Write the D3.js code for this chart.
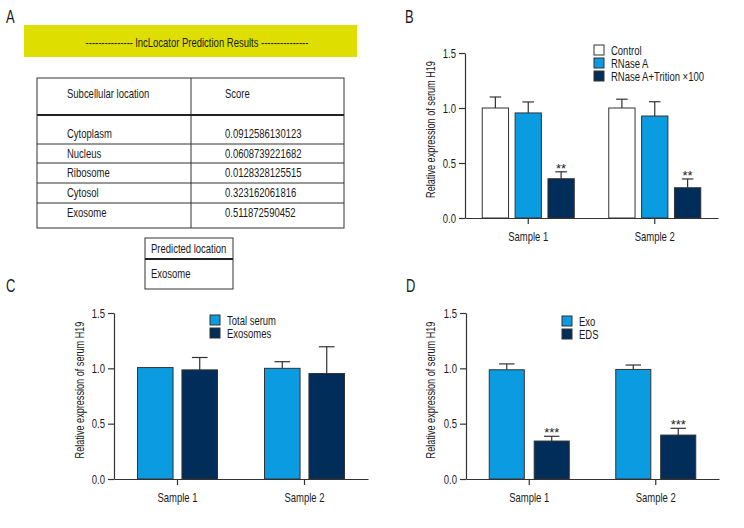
<!DOCTYPE html>
<html><head><meta charset="utf-8">
<script src="https://cdn.jsdelivr.net/npm/d3@7"></script>
<style>
body{margin:0;background:#fff}
svg text{font-family:"Liberation Sans",Arial,sans-serif;fill:#1a1a1a}
</style></head><body>
<svg id="c" width="744" height="528"></svg>
<script>
// ---- Data ----
const tableHeader = ["Subcellular location", "Score"];
const locations = ["Cytoplasm", "Nucleus", "Ribosome", "Cytosol", "Exosome"];
const scores = ["0.0912586130123", "0.0608739221682", "0.0128328125515", "0.323162061816", "0.511872590452"];
const predictedLabel = "Predicted location";
const predictedValue = "Exosome";
const bannerText = "--------------- lncLocator Prediction Results ---------------";

const samples = ["Sample 1", "Sample 2"];
const yTicks = [0, 0.5, 1.0, 1.5];
const yTitle = "Relative expression of serum H19";

const seriesB = ["Control", "RNase A", "RNase A+Trition \u00d7100"];
const valuesB = [[1.00, 1.00], [0.955, 0.927], [0.357, 0.275]];
const errorsB = [[0.10, 0.08], [0.10, 0.13], [0.063, 0.08]];
const starsB = [["", ""], ["", ""], ["**", "**"]];

const seriesC = ["Total serum", "Exosomes"];
const valuesC = [[1.007, 1.0], [0.986, 0.953]];
const errorsC = [[0.0, 0.06], [0.112, 0.242]];

const seriesD = ["Exo", "EDS"];
const valuesD = [[0.987, 0.99], [0.343, 0.397]];
const errorsD = [[0.053, 0.04], [0.043, 0.061]];
const starsD = [["", ""], ["***", "***"]];

const colorsB = ["#ffffff", "#0a9be0", "#002d5a"];
const colors2 = ["#0a9be0", "#002d5a"];

const SX = 0.73;   // condensed look
const FS = 13;
const svg = d3.select("#c");

function T(parent, x, y, str, opts = {}) {
  const size = opts.size || FS;
  const rot = opts.rotate ? ` rotate(${opts.rotate})` : "";
  return parent.append("text")
    .attr("transform", `translate(${x},${y})${rot} scale(${opts.sx || SX},1)`)
    .attr("text-anchor", opts.anchor || "start")
    .attr("font-size", size)
    .attr("fill", opts.fill || "#1a1a1a")
    .text(str);
}

// ---- Panel letters ----
const letters = [["A", 6, 23], ["B", 405, 23], ["C", 6, 292], ["D", 406, 292]];
letters.forEach(d => T(svg, d[1], d[2], d[0], { size: 18, sx: 0.72 }));

// ---- Panel A ----
const A = svg.append("g");
A.append("rect").attr("x", 24).attr("y", 25).attr("width", 333).attr("height", 32).attr("fill", "#dede00");
T(A, 197, 47, bannerText, { anchor: "middle" });

const tx0 = 37, tx1 = 344, tcol = 191;
A.append("rect").attr("x", tx0).attr("y", 78).attr("width", tx1 - tx0).attr("height", 150)
  .attr("fill", "none").attr("stroke", "#333").attr("stroke-width", 1);
A.append("line").attr("x1", tcol).attr("x2", tcol).attr("y1", 78).attr("y2", 228).attr("stroke", "#333");
A.append("line").attr("x1", tx0).attr("x2", tx1).attr("y1", 115).attr("y2", 115).attr("stroke", "#222").attr("stroke-width", 2);
[144, 163, 183, 203].forEach(y => A.append("line").attr("x1", tx0).attr("x2", tx1).attr("y1", y).attr("y2", y).attr("stroke", "#333"));
T(A, 67, 98, tableHeader[0]);
T(A, 225, 98, tableHeader[1]);
const rowY = [138, 158, 177, 197, 217];
locations.forEach((l, i) => {
  T(A, 67, rowY[i], l);
  T(A, 225, rowY[i], scores[i]);
});
A.append("rect").attr("x", 145).attr("y", 238).attr("width", 88).attr("height", 51).attr("fill", "none").attr("stroke", "#333");
A.append("line").attr("x1", 145).attr("x2", 233).attr("y1", 259).attr("y2", 259).attr("stroke", "#222").attr("stroke-width", 2);
T(A, 151, 253, predictedLabel);
T(A, 151, 278, predictedValue);

// ---- Bar chart helper ----
function barChart(opt) {
  const g = svg.append("g");
  const y = d3.scaleLinear().domain([0, 1.5]).range([opt.y0, opt.y1]);
  const x0 = d3.scaleBand().domain(samples).range([opt.x0, opt.x1]).padding(0);
  const n = opt.series.length;
  const x1 = d3.scaleBand().domain(d3.range(n)).range([-opt.groupW / 2, opt.groupW / 2]).paddingInner(opt.inner);
  const ya = g.append("g").attr("transform", `translate(${opt.x0},0)`)
    .call(d3.axisLeft(y).tickValues(yTicks).tickFormat(d3.format(".1f")).tickSize(6).tickSizeOuter(0).tickPadding(3));
  const xa = g.append("g").attr("transform", `translate(0,${opt.y0})`)
    .call(d3.axisBottom(x0).tickSize(6).tickSizeOuter(0).tickPadding(8));
  [ya, xa].forEach(a => {
    a.select(".domain").attr("stroke", "#333").attr("stroke-width", 1.2);
    a.selectAll(".tick line").attr("stroke", "#333").attr("stroke-width", 1.2);
    a.selectAll("text").attr("font-size", FS).attr("fill", "#1a1a1a").attr("font-family", null);
  });
  ya.selectAll(".tick text").each(function () {
    const t = d3.select(this); const x = +t.attr("x");
    t.attr("x", x / SX).attr("transform", `scale(${SX},1)`);
  });
  xa.selectAll(".tick text").attr("transform", `scale(${SX},1)`);
  T(g, opt.titleX, (opt.y0 + opt.y1) / 2 - 6, yTitle, { anchor: "middle", rotate: -90, size: 12.5 });
  opt.series.forEach((s, si) => {
    samples.forEach((smp, ci) => {
      const v = opt.values[si][ci], e = opt.errors[si][ci];
      const bx = x0(smp) + x0.bandwidth() / 2 + x1(si), bw = x1.bandwidth();
      const cx = bx + bw / 2;
      if (e > 0) {
        g.append("line").attr("x1", cx).attr("x2", cx).attr("y1", y(v)).attr("y2", y(v + e)).attr("stroke", "#333").attr("stroke-width", 1.2);
        g.append("line").attr("x1", cx - bw * 0.22).attr("x2", cx + bw * 0.22).attr("y1", y(v + e)).attr("y2", y(v + e)).attr("stroke", "#333").attr("stroke-width", 1.2);
      }
      g.append("rect").attr("x", bx).attr("y", y(v)).attr("width", bw).attr("height", y(0) - y(v))
        .attr("fill", opt.colors[si]).attr("stroke", "#333").attr("stroke-width", 1);
      if (opt.stars && opt.stars[si][ci]) {
        T(g, cx, y(v + e) + 1, opt.stars[si][ci], { anchor: "middle", size: 13, fill: "#555", sx: 1 });
      }
    });
  });
  opt.series.forEach((s, i) => {
    const ly = opt.legY + i * opt.legStep;
    g.append("rect").attr("x", opt.legX).attr("y", ly).attr("width", 10).attr("height", 10)
      .attr("fill", opt.colors[i]).attr("stroke", "#333").attr("stroke-width", 1);
    T(g, opt.legX + 17, ly + 10, s);
  });
}

barChart({ x0: 465, x1: 718, y0: 218, y1: 53, groupW: 92, inner: 0.2, series: seriesB, values: valuesB,
  errors: errorsB, stars: starsB, colors: colorsB, legX: 594, legY: 45, legStep: 13, titleX: 435 });
barChart({ x0: 114, x1: 368, y0: 479, y1: 313, groupW: 80, inner: 0.2, series: seriesC, values: valuesC,
  errors: errorsC, colors: colors2, legX: 210, legY: 315, legStep: 13, titleX: 84 });
barChart({ x0: 466, x1: 719, y0: 479, y1: 313, groupW: 80, inner: 0.22, series: seriesD, values: valuesD,
  errors: errorsD, stars: starsD, colors: colors2, legX: 562, legY: 316, legStep: 13, titleX: 435 });
</script></body></html>
